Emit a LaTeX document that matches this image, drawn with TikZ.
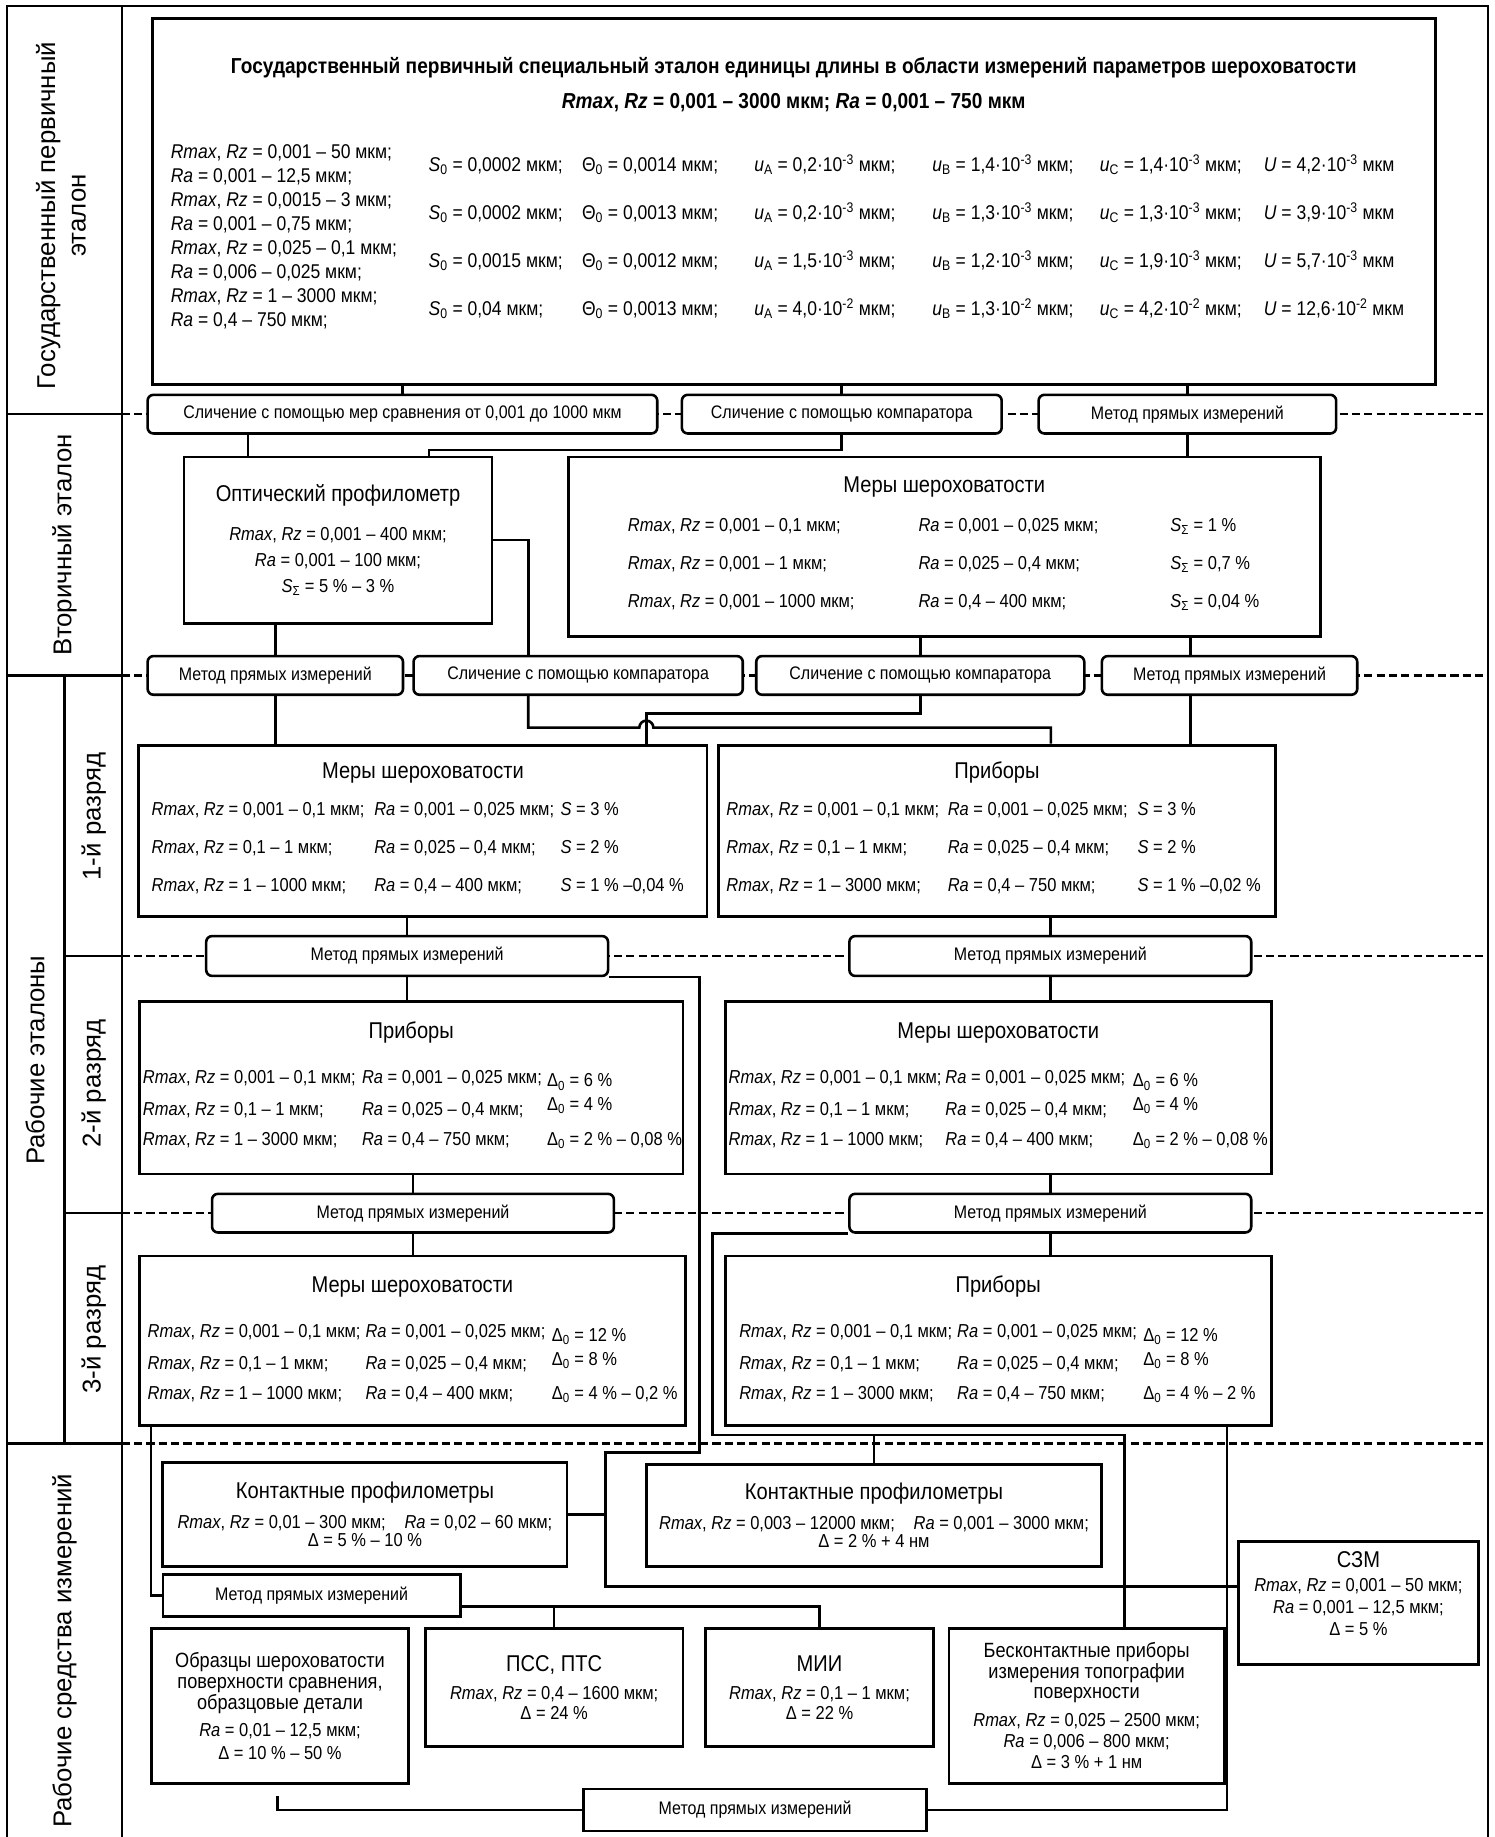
\documentclass[tikz,border=0pt]{standalone}
\usepackage{fontspec}
\usepackage{array}
\setmainfont{Liberation Sans}[FakeStretch=0.88]
\newfontfamily\sidefont{Liberation Sans}
\usetikzlibrary{calc}

\newcommand{\RmaxRz}{\textit{Rmax}, \textit{Rz}}
\newcommand{\RaV}{\textit{Ra}}
\newcommand{\Szero}{\textit{S}\textsubscript{0}}
\newcommand{\Ssum}{\textit{S}\textsubscript{Σ}}
\newcommand{\Dzero}{Δ\textsubscript{0}}
\newcommand{\Thzero}{Θ\textsubscript{0}}
\newcommand{\uidx}[1]{\textit{u}\textsubscript{#1}}
\newcommand{\tenp}[1]{·10\textsuperscript{#1}}

\newcommand{\fTitle}{\fontsize{19.5}{22}\selectfont}
\newcommand{\fBody}{\fontsize{16}{19}\selectfont}
\newcommand{\fGos}{\fontsize{17}{20.5}\selectfont}
\newcommand{\fGosTitle}{\bfseries\fontsize{18.5}{21}\selectfont}
\newcommand{\fMet}{\fontsize{15.5}{18}\selectfont}
\newcommand{\fLow}{\fontsize{16}{18}\selectfont}
\newcommand{\fLowTitle}{\fontsize{17.6}{20}\selectfont}
\newcommand{\fSide}{\sidefont\fontsize{22}{26}\selectfont}

\begin{document}
\begin{tikzpicture}[x=1pt,y=-1pt]
\tikzstyle{bbox} = [draw, fill=white, inner sep=0pt, line width=2.4pt]
\tikzstyle{lowbox} = [bbox, align=center, font=\fLow]
\tikzstyle{metod} = [draw, fill=white, rounded corners=5pt, inner sep=0pt, minimum height=33pt, font=\fMet, line width=2.2pt]
\tikzstyle{metodsq} = [metod, sharp corners, minimum height=36pt]
\tikzstyle{grid} = [line width=2pt]
\tikzstyle{sep} = [line width=2pt, dash pattern=on 7pt off 3.5pt]
\tikzstyle{link} = [line width=2.2pt]
\tikzstyle{side} = [rotate=90, font=\fSide, align=center, inner sep=0pt]
\tikzstyle{btitle} = [anchor=base, font=\fTitle, inner sep=0pt]
\tikzstyle{bdata} = [anchor=base west, font=\fBody, inner sep=0pt]

\useasboundingbox (0,0) rectangle (1276,1568);

\draw[grid] (6,1568) -- (6,5) -- (1270,5) -- (1270,1568);
\draw[grid] (104,5) -- (104,1568);
\draw[grid] (55,576.5) -- (55,1232);
\draw[grid] (6,353.5) -- (104,353.5);
\draw[grid] (6,576.5) -- (104,576.5);
\draw[grid] (55,816) -- (104,816);
\draw[grid] (55,1035.5) -- (104,1035.5);
\draw[grid] (6,1232) -- (104,1232);
\draw[sep] (104,353.5) -- (1270,353.5);
\draw[sep] (104,576.5) -- (1270,576.5);
\draw[sep] (104,816) -- (1270,816);
\draw[sep] (104,1035.5) -- (1270,1035.5);
\draw[sep] (104,1232) -- (1270,1232);

\node[side] (lgos) at (52,184) {Государственный первичный\\эталон};
\node[side] (lvt) at (55,465) {Вторичный эталон};
\node[side] (lrab) at (30,905) {Рабочие эталоны};
\node[side] (lr1) at (80,697) {1-й разряд};
\node[side] (lr2) at (80,925) {2-й разряд};
\node[side] (lr3) at (80,1135) {3-й разряд};
\node[side] (lsi) at (55,1409) {Рабочие средства измерений};

\node[bbox, line width=2.8pt, minimum width=1095pt, minimum height=312pt] (gos) at (677.5,172) {};
\node[anchor=base, font=\fGosTitle, inner sep=0pt] (gost) at ([yshift=-48pt]gos.north) {Государственный первичный специальный эталон единицы длины в области измерений параметров шероховатости};
\node[anchor=base, font=\fGosTitle, inner sep=0pt] (gosr) at ([yshift=-78pt]gos.north) {\RmaxRz\ = 0,001 – 3000 мкм; \RaV\ = 0,001 – 750 мкм};
\node[bdata, font=\fGos] (gosl) at ([xshift=17pt,yshift=-121pt]gos.north west) {\begin{tabular}[t]{@{}l@{}}
\RmaxRz\ = 0,001 – 50 мкм;\\
\RaV\ = 0,001 – 12,5 мкм;\\
\RmaxRz\ = 0,0015 – 3 мкм;\\
\RaV\ = 0,001 – 0,75 мкм;\\
\RmaxRz\ = 0,025 – 0,1 мкм;\\
\RaV\ = 0,006 – 0,025 мкм;\\
\RmaxRz\ = 1 – 3000 мкм;\\
\RaV\ = 0,4 – 750 мкм;
\end{tabular}};
\node[bdata, font=\fGos] (gosd) at ([xshift=237pt,yshift=-132pt]gos.north west) {\begin{tabular}[t]{@{}w{l}{131pt}@{}w{l}{147pt}@{}w{l}{152pt}@{}w{l}{143pt}@{}w{l}{140pt}@{}l@{}}
\Szero\ = 0,0002 мкм; & \Thzero\ = 0,0014 мкм; & \uidx{A} = 0,2\tenp{-3} мкм; & \uidx{B} = 1,4\tenp{-3} мкм; & \uidx{C} = 1,4\tenp{-3} мкм; & \textit{U} = 4,2\tenp{-3} мкм\\[20.2pt]
\Szero\ = 0,0002 мкм; & \Thzero\ = 0,0013 мкм; & \uidx{A} = 0,2\tenp{-3} мкм; & \uidx{B} = 1,3\tenp{-3} мкм; & \uidx{C} = 1,3\tenp{-3} мкм; & \textit{U} = 3,9\tenp{-3} мкм\\[20.2pt]
\Szero\ = 0,0015 мкм; & \Thzero\ = 0,0012 мкм; & \uidx{A} = 1,5\tenp{-3} мкм; & \uidx{B} = 1,2\tenp{-3} мкм; & \uidx{C} = 1,9\tenp{-3} мкм; & \textit{U} = 5,7\tenp{-3} мкм\\[20.2pt]
\Szero\ = 0,04 мкм; & \Thzero\ = 0,0013 мкм; & \uidx{A} = 4,0\tenp{-2} мкм; & \uidx{B} = 1,3\tenp{-2} мкм; & \uidx{C} = 4,2\tenp{-2} мкм; & \textit{U} = 12,6\tenp{-2} мкм
\end{tabular}};

\node[metod, minimum width=435pt] (a1) at (343.5,353.5) {Сличение с помощью мер сравнения от 0,001 до 1000 мкм};
\node[metod, minimum width=273pt] (a2) at (718.5,353.5) {Сличение с помощью компаратора};
\node[metod, minimum width=254pt] (a3) at (1013.5,353.5) {Метод прямых измерений};

\node[bbox, align=center, font=\fBody, minimum width=263pt, minimum height=142pt] (opt) at (288.5,461) {{\fTitle Оптический профилометр}\\[14pt]
\RmaxRz\ = 0,001 – 400 мкм;\\[3.5pt]
\RaV\ = 0,001 – 100 мкм;\\[3.5pt]
\Ssum\ = 5 \% – 3 \%};

\node[bbox, minimum width=642pt, minimum height=153pt] (merv) at (806,466.5) {};
\node[btitle] (mervt) at ([yshift=-32pt]merv.north) {Меры шероховатости};
\node[bdata] (mervd) at ([xshift=52pt,yshift=-65pt]merv.north west) {\begin{tabular}[t]{@{}w{l}{248pt}@{}w{l}{215pt}@{}l@{}}
\RmaxRz\ = 0,001 – 0,1 мкм; & \RaV\ = 0,001 – 0,025 мкм; & \Ssum\ = 1 \%\\[13.5pt]
\RmaxRz\ = 0,001 – 1 мкм; & \RaV\ = 0,025 – 0,4 мкм; & \Ssum\ = 0,7 \%\\[13.5pt]
\RmaxRz\ = 0,001 – 1000 мкм; & \RaV\ = 0,4 – 400 мкм; & \Ssum\ = 0,04 \%
\end{tabular}};

\node[metod, minimum width=218pt] (b1) at (235,576.5) {Метод прямых измерений};
\node[metod, minimum width=281pt] (b2) at (493.5,576.5) {Сличение с помощью компаратора};
\node[metod, minimum width=280pt] (b3) at (785.5,576.5) {Сличение с помощью компаратора};
\node[metod, minimum width=218pt] (b4) at (1049.5,576.5) {Метод прямых измерений};

\node[bbox, minimum width=485pt, minimum height=146pt] (mer1) at (361,709) {};
\node[btitle] (mer1t) at ([yshift=-29.5pt]mer1.north) {Меры шероховатости};
\node[bdata] (mer1d) at ([xshift=12pt,yshift=-61pt]mer1.north west) {\begin{tabular}[t]{@{}w{l}{190pt}@{}w{l}{159pt}@{}l@{}}
\RmaxRz\ = 0,001 – 0,1 мкм; & \RaV\ = 0,001 – 0,025 мкм; & \textit{S} = 3 \%\\[13.5pt]
\RmaxRz\ = 0,1 – 1 мкм; & \RaV\ = 0,025 – 0,4 мкм; & \textit{S} = 2 \%\\[13.5pt]
\RmaxRz\ = 1 – 1000 мкм; & \RaV\ = 0,4 – 400 мкм; & \textit{S} = 1 \% –0,04 \%
\end{tabular}};

\node[bbox, minimum width=476pt, minimum height=146pt] (pri1) at (851,709) {};
\node[btitle] (pri1t) at ([yshift=-29.5pt]pri1.north) {Приборы};
\node[bdata] (pri1d) at ([xshift=8pt,yshift=-61pt]pri1.north west) {\begin{tabular}[t]{@{}w{l}{189pt}@{}w{l}{162pt}@{}l@{}}
\RmaxRz\ = 0,001 – 0,1 мкм; & \RaV\ = 0,001 – 0,025 мкм; & \textit{S} = 3 \%\\[13.5pt]
\RmaxRz\ = 0,1 – 1 мкм; & \RaV\ = 0,025 – 0,4 мкм; & \textit{S} = 2 \%\\[13.5pt]
\RmaxRz\ = 1 – 3000 мкм; & \RaV\ = 0,4 – 750 мкм; & \textit{S} = 1 \% –0,02 \%
\end{tabular}};

\node[metod, minimum width=343pt, minimum height=34pt] (c1) at (347.5,816) {Метод прямых измерений};
\node[metod, minimum width=343pt, minimum height=34pt] (c2) at (896.5,816) {Метод прямых измерений};

\node[bbox, minimum width=464pt, minimum height=147pt] (pri2) at (351,928.5) {};
\node[btitle] (pri2t) at ([yshift=-33pt]pri2.north) {Приборы};
\node[bdata] (pri2d) at ([xshift=4pt,yshift=-71pt]pri2.north west) {\begin{tabular}[t]{@{}w{l}{187pt}@{}w{l}{158pt}@{}l@{}}
\RmaxRz\ = 0,001 – 0,1 мкм; & \RaV\ = 0,001 – 0,025 мкм; & \raisebox{-3pt}{\Dzero\ = 6 \%}\\[6.5pt]
\RmaxRz\ = 0,1 – 1 мкм; & \RaV\ = 0,025 – 0,4 мкм; & \raisebox{4pt}{\Dzero\ = 4 \%}\\[6.5pt]
\RmaxRz\ = 1 – 3000 мкм; & \RaV\ = 0,4 – 750 мкм; & \Dzero\ = 2 \% – 0,08 \%
\end{tabular}};

\node[bbox, minimum width=466pt, minimum height=147pt] (mer2) at (852,928.5) {};
\node[btitle] (mer2t) at ([yshift=-33pt]mer2.north) {Меры шероховатости};
\node[bdata] (mer2d) at ([xshift=4pt,yshift=-71pt]mer2.north west) {\begin{tabular}[t]{@{}w{l}{185pt}@{}w{l}{160pt}@{}l@{}}
\RmaxRz\ = 0,001 – 0,1 мкм; & \RaV\ = 0,001 – 0,025 мкм; & \raisebox{-3pt}{\Dzero\ = 6 \%}\\[6.5pt]
\RmaxRz\ = 0,1 – 1 мкм; & \RaV\ = 0,025 – 0,4 мкм; & \raisebox{4pt}{\Dzero\ = 4 \%}\\[6.5pt]
\RmaxRz\ = 1 – 1000 мкм; & \RaV\ = 0,4 – 400 мкм; & \Dzero\ = 2 \% – 0,08 \%
\end{tabular}};

\node[metod, minimum width=343pt] (d1) at (352.5,1035.5) {Метод прямых измерений};
\node[metod, minimum width=343pt] (d2) at (896.5,1035.5) {Метод прямых измерений};

\node[bbox, minimum width=466pt, minimum height=145pt] (mer3) at (352,1144.5) {};
\node[btitle] (mer3t) at ([yshift=-32pt]mer3.north) {Меры шероховатости};
\node[bdata] (mer3d) at ([xshift=8pt,yshift=-71pt]mer3.north west) {\begin{tabular}[t]{@{}w{l}{186pt}@{}w{l}{159pt}@{}l@{}}
\RmaxRz\ = 0,001 – 0,1 мкм; & \RaV\ = 0,001 – 0,025 мкм; & \raisebox{-3pt}{\Dzero\ = 12 \%}\\[6.5pt]
\RmaxRz\ = 0,1 – 1 мкм; & \RaV\ = 0,025 – 0,4 мкм; & \raisebox{4pt}{\Dzero\ = 8 \%}\\[6.5pt]
\RmaxRz\ = 1 – 1000 мкм; & \RaV\ = 0,4 – 400 мкм; & \Dzero\ = 4 \% – 0,2 \%
\end{tabular}};

\node[bbox, minimum width=466pt, minimum height=145pt] (pri3) at (852,1144.5) {};
\node[btitle] (pri3t) at ([yshift=-32pt]pri3.north) {Приборы};
\node[bdata] (pri3d) at ([xshift=13pt,yshift=-71pt]pri3.north west) {\begin{tabular}[t]{@{}w{l}{186pt}@{}w{l}{159pt}@{}l@{}}
\RmaxRz\ = 0,001 – 0,1 мкм; & \RaV\ = 0,001 – 0,025 мкм; & \raisebox{-3pt}{\Dzero\ = 12 \%}\\[6.5pt]
\RmaxRz\ = 0,1 – 1 мкм; & \RaV\ = 0,025 – 0,4 мкм; & \raisebox{4pt}{\Dzero\ = 8 \%}\\[6.5pt]
\RmaxRz\ = 1 – 3000 мкм; & \RaV\ = 0,4 – 750 мкм; & \Dzero\ = 4 \% – 2 \%
\end{tabular}};

\node[lowbox, minimum width=345pt, minimum height=89pt] (kp1) at (311.5,1292.5) {{\fTitle Контактные профилометры}\\[8pt]
\RmaxRz\ = 0,01 – 300 мкм;\quad \RaV\ = 0,02 – 60 мкм;\\[-2.5pt]
Δ = 5 \% – 10 \%};
\node[lowbox, minimum width=388pt, minimum height=87pt] (kp2) at (746,1293.5) {{\fTitle Контактные профилометры}\\[8pt]
\RmaxRz\ = 0,003 – 12000 мкм;\quad \RaV\ = 0,001 – 3000 мкм;\\[-2.5pt]
Δ = 2 \% + 4 нм};
\node[bbox, minimum width=205pt, minimum height=105pt] (szm) at (1159.5,1368.5) {};
\node[align=center, font=\fLow, inner sep=0pt] (szmt) at ([yshift=8.5pt]szm.center) {{\fTitle СЗМ}\\[3pt]
\RmaxRz\ = 0,001 – 50 мкм;\\[0.5pt]
\RaV\ = 0,001 – 12,5 мкм;\\[0.5pt]
Δ = 5 \%};

\node[metodsq, minimum width=254pt] (e1) at (266,1362) {Метод прямых измерений};

\node[lowbox, minimum width=220pt, minimum height=132pt] (obr) at (239,1456) {{\fLowTitle Образцы шероховатости}\\
{\fLowTitle поверхности сравнения,}\\
{\fLowTitle образцовые детали}\\[5pt]
\RaV\ = 0,01 – 12,5 мкм;\\[2pt]
Δ = 10 \% – 50 \%};
\node[lowbox, minimum width=220pt, minimum height=101pt] (pss) at (473,1440.5) {{\fTitle ПСС, ПТС}\\[6pt]
\RmaxRz\ = 0,4 – 1600 мкм;\\[-1pt]
Δ = 24 \%};
\node[lowbox, minimum width=195pt, minimum height=101pt] (mii) at (699.5,1440.5) {{\fTitle МИИ}\\[6pt]
\RmaxRz\ = 0,1 – 1 мкм;\\[-1pt]
Δ = 22 \%};
\node[lowbox, minimum width=235pt, minimum height=132pt] (bes) at (927.5,1456) {{\fLowTitle Бесконтактные приборы}\\[-0.5pt]
{\fLowTitle измерения топографии}\\[-0.5pt]
{\fLowTitle поверхности}\\[6pt]
\RmaxRz\ = 0,025 – 2500 мкм;\\
\RaV\ = 0,006 – 800 мкм;\\
Δ = 3 \% + 1 нм};

\node[metodsq, minimum width=293pt] (e2) at (644.5,1545) {Метод прямых измерений};

\draw[link] (gos.south -| a1.north) -- (a1.north);
\draw[link] (gos.south -| a2.north) -- (a2.north);
\draw[link] (gos.south -| a3.north) -- (a3.north);
\coordinate (o1) at ($(opt.north west)+(56,0)$);
\draw[link] (o1) -- (o1 |- a1.south);
\draw[link] (a2.south) -- ++(0,13) -| ($(opt.north east)+(-55,0)$);
\draw[link] (a3.south) -- (a3.south |- merv.north);
\draw[link] (b1.north) -- (b1.north |- opt.south);
\draw[link] (opt.east) -| ($(b2.north west)+(99,0)$);
\draw[link] (b3.north) -- (b3.north |- merv.south);
\coordinate (m4) at ($(b4.north west)+(77,0)$);
\draw[link] (m4) -- (m4 |- merv.south);
\draw[link] (b1.south) -- (b1.south |- mer1.north);
\coordinate (jx) at ($(mer1.north east)+(-53,0)$);
\draw[link] (b3.south) -- ++(0,15) -| (jx);
\coordinate (kp) at ($(pri1.north)+(46,0)$);
\draw[link] ($(b2.south west)+(99,0)$) -- ++(0,27) coordinate (k1) -- ($(k1 -| jx)+(-6,0)$) arc[start angle=180, end angle=0, radius=6pt] -- (k1 -| kp) -- (kp);
\coordinate (m4b) at ($(b4.south west)+(77,0)$);
\draw[link] (m4b) -- (m4b |- pri1.north);
\draw[link] (c1.north) -- (c1.north |- mer1.south);
\draw[link] (c2.north) -- (c2.north |- pri1.south);
\draw[link] (c1.south) -- (c1.south |- pri2.north);
\draw[link] (c2.south) -- (c2.south |- mer2.north);
\draw[link] (d1.north) -- (d1.north |- pri2.south);
\draw[link] (d2.north) -- (d2.north |- mer2.south);
\draw[link] (d1.south) -- (d1.south |- mer3.north);
\draw[link] (d2.south) -- (d2.south |- pri3.north);
\coordinate (r1) at (597,1240);
\coordinate (r2) at (517,1354);
\draw[link] (c1.south east) -| (r1) -| (r2) -- ([yshift=14.5pt]szm.west);
\draw[link] (kp1.east) -- (kp1.east -| r2);
\coordinate (r3) at (608,1225);
\draw[link] (d2.south west) -| (r3) -| ($(bes.north)+(32.5,0)$);
\draw[link] (kp2.north) -- (kp2.north |- r3);
\coordinate (p3) at ($(pri3.south east)+(-39,0)$);
\draw[link] (p3) |- (e2.east);
\draw[link] (e2.west) -| ($(obr.south)+(-2,10)$);
\coordinate (m3) at ($(mer3.south west)+(11,0)$);
\draw[link] (m3) |- (e1.west);
\coordinate (r4) at ($(e1.east)+(0,9)$);
\draw[link] (r4) -| (mii.north);
\draw[link] (pss.north) -- (pss.north |- r4);
\end{tikzpicture}
\end{document}
